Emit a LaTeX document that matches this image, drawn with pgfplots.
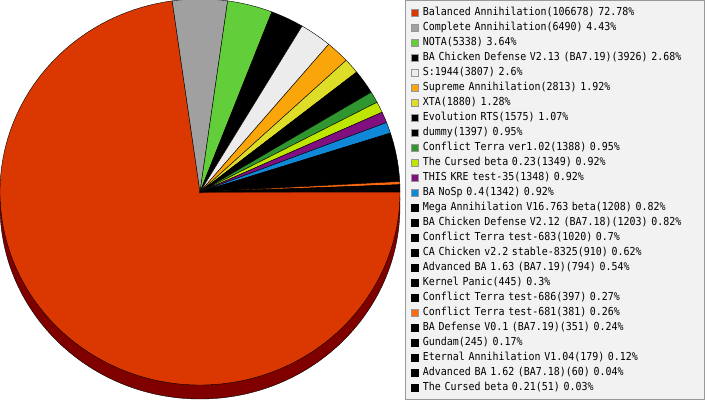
\documentclass[border=0pt,11pt]{standalone}
\usepackage{pgfplots}
\pgfplotsset{compat=1.18}
\usepackage{pgfplotstable}
\usepackage{fontspec}
\setmainfont[FakeStretch=0.906]{DejaVu Sans Mono}
\DeclareRobustCommand\legsetup{\normalfont\fontsize{11}{11}\selectfont}

\definecolor{c1}{RGB}{218,56,0}
\definecolor{c2}{RGB}{160,160,160}
\definecolor{c3}{RGB}{98,206,58}
\definecolor{cblack}{RGB}{0,0,0}
\definecolor{c5}{RGB}{236,236,236}
\definecolor{c6}{RGB}{250,165,10}
\definecolor{c7}{RGB}{222,222,40}
\definecolor{c10}{RGB}{48,150,48}
\definecolor{c11}{RGB}{190,230,0}
\definecolor{c12}{RGB}{128,16,128}
\definecolor{c13}{RGB}{16,136,216}
\definecolor{c21}{RGB}{255,106,16}
\definecolor{cshadow}{RGB}{128,0,0}
\definecolor{lgray}{RGB}{150,150,150}
\definecolor{lframe}{RGB}{153,153,153}
\definecolor{lfill}{RGB}{242,242,242}
% colour of each slice, by index
\colorlet{pc0}{cshadow}
\colorlet{pc1}{c1}\colorlet{pc2}{c2}\colorlet{pc3}{c3}\colorlet{pc4}{cblack}
\colorlet{pc5}{c5}\colorlet{pc6}{c6}\colorlet{pc7}{c7}\colorlet{pc8}{cblack}
\colorlet{pc9}{cblack}\colorlet{pc10}{c10}\colorlet{pc11}{c11}\colorlet{pc12}{c12}
\colorlet{pc13}{c13}\colorlet{pc21}{c21}
\colorlet{pc99}{cblack}

\pgfdeclareplotmark{nothing}{}

% slices: centre (x,y), start/end angle (degrees), colour index
\pgfplotstableread{
x y sa ea ci
200 208 97.99 360.00 1
200 208 82.05 97.99 2
200 208 68.94 82.05 3
200 208 59.30 68.94 4
200 208 49.95 59.30 5
200 208 43.04 49.95 6
200 208 38.42 43.04 7
200 208 34.55 38.42 8
200 208 31.12 34.55 9
200 208 27.71 31.12 10
200 208 24.40 27.71 11
200 208 21.09 24.40 12
200 208 17.79 21.09 13
200 208 14.82 17.79 99
200 208 11.87 14.82 99
200 208 9.36 11.87 99
200 208 7.13 9.36 99
200 208 5.18 7.13 99
200 208 4.09 5.18 99
200 208 3.11 4.09 99
200 208 2.18 3.11 21
200 208 1.31 2.18 99
200 208 0.71 1.31 99
200 208 0.27 0.71 99
200 208 0.13 0.27 99
200 208 0.00 0.13 99
}\slices

\pgfplotstableread{
x y sa ea ci
200 194 0 360 0
}\shadow

\begin{document}
\begin{tikzpicture}
\begin{axis}[
  scale only axis, width=707pt, height=400pt,
  xmin=0, xmax=707, ymin=0, ymax=400,
  hide axis,
  legend cell align=left,
  legend image code/.code={\path[#1] (0.5pt,-3.5pt) rectangle (7.5pt,3.5pt);},
  legend style={
    at={(405/707,1)}, anchor=north west,
    draw=lframe, fill=lfill, line width=1pt,
    inner xsep=5.5pt, inner ysep=7pt,
    row sep=5pt, column sep=4pt,
    font=\legsetup,
    nodes={inner sep=0pt, text height=7.5pt, text depth=2.5pt, text width=276pt},
  },
  pie/.style={
    scatter, only marks, mark=nothing, forget plot,
    visualization depends on={\thisrow{sa}\as\startang},
    visualization depends on={\thisrow{ea}\as\endang},
    visualization depends on={\thisrow{ci}\as\colidx},
    scatter/@pre marker code/.code={%
      \pgfmathtruncatemacro\cidx{\colidx}%
      \path[fill=pc\cidx] (0,0) -- (\startang:200pt and 193pt)
        arc[start angle=\startang, end angle=\endang, x radius=200pt, y radius=193pt] -- cycle;},
    scatter/@post marker code/.code={},
  },
]
\addplot[pie] table[x=x,y=y] \shadow;
\addplot[pie] table[x=x,y=y] \slices;

\addlegendimage{fill=c1, draw=lgray, line width=1pt}
\addlegendentry{Balanced Annihilation(106678) 72.78\%}
\addlegendimage{fill=c2, draw=lgray, line width=1pt}
\addlegendentry{Complete Annihilation(6490) 4.43\%}
\addlegendimage{fill=c3, draw=lgray, line width=1pt}
\addlegendentry{NOTA(5338) 3.64\%}
\addlegendimage{fill=cblack, draw=lgray, line width=1pt}
\addlegendentry{BA Chicken Defense V2.13 (BA7.19)(3926) 2.68\%}
\addlegendimage{fill=c5, draw=lgray, line width=1pt}
\addlegendentry{S:1944(3807) 2.6\%}
\addlegendimage{fill=c6, draw=lgray, line width=1pt}
\addlegendentry{Supreme Annihilation(2813) 1.92\%}
\addlegendimage{fill=c7, draw=lgray, line width=1pt}
\addlegendentry{XTA(1880) 1.28\%}
\addlegendimage{fill=cblack, draw=lgray, line width=1pt}
\addlegendentry{Evolution RTS(1575) 1.07\%}
\addlegendimage{fill=cblack, draw=lgray, line width=1pt}
\addlegendentry{dummy(1397) 0.95\%}
\addlegendimage{fill=c10, draw=lgray, line width=1pt}
\addlegendentry{Conflict Terra ver1.02(1388) 0.95\%}
\addlegendimage{fill=c11, draw=lgray, line width=1pt}
\addlegendentry{The Cursed beta 0.23(1349) 0.92\%}
\addlegendimage{fill=c12, draw=lgray, line width=1pt}
\addlegendentry{THIS KRE test-35(1348) 0.92\%}
\addlegendimage{fill=c13, draw=lgray, line width=1pt}
\addlegendentry{BA NoSp 0.4(1342) 0.92\%}
\addlegendimage{fill=cblack, draw=cblack, line width=1pt}
\addlegendentry{Mega Annihilation V16.763 beta(1208) 0.82\%}
\addlegendimage{fill=cblack, draw=cblack, line width=1pt}
\addlegendentry{BA Chicken Defense V2.12 (BA7.18)(1203) 0.82\%}
\addlegendimage{fill=cblack, draw=cblack, line width=1pt}
\addlegendentry{Conflict Terra test-683(1020) 0.7\%}
\addlegendimage{fill=cblack, draw=cblack, line width=1pt}
\addlegendentry{CA Chicken v2.2 stable-8325(910) 0.62\%}
\addlegendimage{fill=cblack, draw=cblack, line width=1pt}
\addlegendentry{Advanced BA 1.63 (BA7.19)(794) 0.54\%}
\addlegendimage{fill=cblack, draw=cblack, line width=1pt}
\addlegendentry{Kernel Panic(445) 0.3\%}
\addlegendimage{fill=cblack, draw=cblack, line width=1pt}
\addlegendentry{Conflict Terra test-686(397) 0.27\%}
\addlegendimage{fill=c21, draw=lgray, line width=1pt}
\addlegendentry{Conflict Terra test-681(381) 0.26\%}
\addlegendimage{fill=cblack, draw=cblack, line width=1pt}
\addlegendentry{BA Defense V0.1 (BA7.19)(351) 0.24\%}
\addlegendimage{fill=cblack, draw=cblack, line width=1pt}
\addlegendentry{Gundam(245) 0.17\%}
\addlegendimage{fill=cblack, draw=cblack, line width=1pt}
\addlegendentry{Eternal Annihilation V1.04(179) 0.12\%}
\addlegendimage{fill=cblack, draw=cblack, line width=1pt}
\addlegendentry{Advanced BA 1.62 (BA7.18)(60) 0.04\%}
\addlegendimage{fill=cblack, draw=cblack, line width=1pt}
\addlegendentry{The Cursed beta 0.21(51) 0.03\%}
\end{axis}
\pgfresetboundingbox
\path[use as bounding box] (current axis.south west) rectangle (current axis.north east);
\end{tikzpicture}
\end{document}
